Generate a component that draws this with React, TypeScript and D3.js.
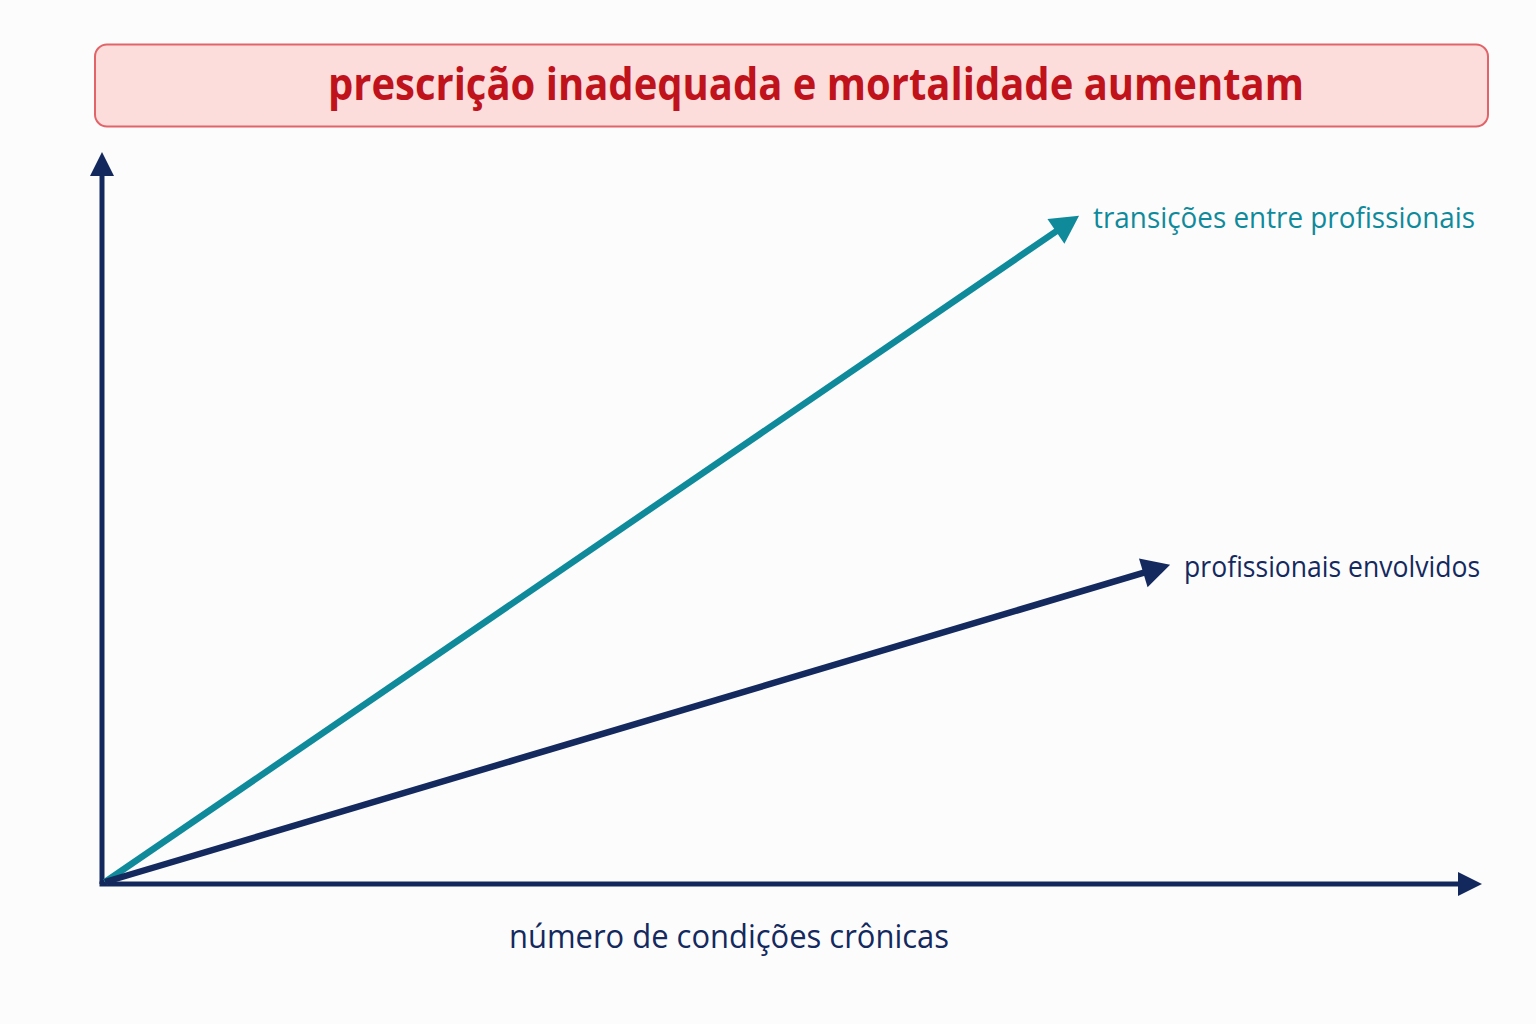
import React from "react";
import * as d3 from "d3";

const TITLE = "prescrição inadequada e mortalidade aumentam";
const X_LABEL = "número de condições crônicas";
const seriesNames = ["transições entre profissionais", "profissionais envolvidos"];
const seriesStartX = [0, 0];
const seriesStartY = [0, 0];
const seriesEndX = [0.708, 0.774];
const seriesEndY = [0.913, 0.436];
const seriesColors = ["#0f8a9b", "#14295e"];
const labelWidths = [382, 296];

const W = 1536;
const H = 1024;
const FONT = "'Open Sans', 'Noto Sans', sans-serif";

export default function App() {
  const x = d3.scaleLinear().domain([0, 1]).range([102, 1482]);
  const y = d3.scaleLinear().domain([0, 1]).range([884, 152]);
  const navy = "#13285c";

  const arrowHead = (x1: number, y1: number, x2: number, y2: number, len: number, half: number) => {
    const a = Math.atan2(y2 - y1, x2 - x1);
    const bx = x2 - len * Math.cos(a);
    const by = y2 - len * Math.sin(a);
    const px = -Math.sin(a) * half;
    const py = Math.cos(a) * half;
    return `${x2},${y2} ${bx + px},${by + py} ${bx - px},${by - py}`;
  };

  const lineGen = d3.line<[number, number]>().x((d) => d[0]).y((d) => d[1]);

  return (
    <svg width={W} height={H} style={{ position: "absolute", left: 0, top: 0, display: "block" }}>
      <rect x={0} y={0} width={W} height={H} fill="#fcfcfd" />
      {/* title */}
      <rect x={95} y={44.5} width={1393} height={82} rx={12} fill="#fddcdc" stroke="#e06468" strokeWidth={2} />
      <text x={816} y={100} textAnchor="middle" fontFamily={FONT} fontWeight={700} fontSize={44} fill="#c0121b" textLength={976} lengthAdjust="spacingAndGlyphs">
        {TITLE}
      </text>
      {/* axes */}
      <line x1={x(0)} y1={y(0)} x2={x(0)} y2={y(1) + 20} stroke={navy} strokeWidth={5} />
      <polygon points={arrowHead(x(0), y(0), x(0), y(1), 24, 12)} fill={navy} />
      <line x1={x(0) - 2.5} y1={y(0)} x2={x(1) - 20} y2={y(0)} stroke={navy} strokeWidth={5} />
      <polygon points={arrowHead(x(0), y(0), x(1), y(0), 24, 12)} fill={navy} />
      {/* series */}
      {seriesNames.map((name, i) => {
        const x1 = x(seriesStartX[i]) + 3;
        const y1 = y(seriesStartY[i]) - 2;
        const x2 = x(seriesEndX[i]);
        const y2 = y(seriesEndY[i]);
        const a = Math.atan2(y2 - y1, x2 - x1);
        const ex = x2 - 22 * Math.cos(a);
        const ey = y2 - 22 * Math.sin(a);
        return (
          <g key={name}>
            <path d={lineGen([[x1, y1], [ex, ey]]) || ""} stroke={seriesColors[i]} strokeWidth={6.5} fill="none" />
            <polygon points={arrowHead(x1, y1, x2, y2, 28, 15)} fill={seriesColors[i]} />
            <text x={x2 + 14} y={y2 + 12} fontFamily={FONT} fontWeight={500} fontSize={30} fill={seriesColors[i]} textLength={labelWidths[i]} lengthAdjust="spacingAndGlyphs">
              {name}
            </text>
          </g>
        );
      })}
      <text x={729} y={948} textAnchor="middle" fontFamily={FONT} fontWeight={500} fontSize={32} fill="#14295e" textLength={440} lengthAdjust="spacingAndGlyphs">
        {X_LABEL}
      </text>
    </svg>
  );
}
